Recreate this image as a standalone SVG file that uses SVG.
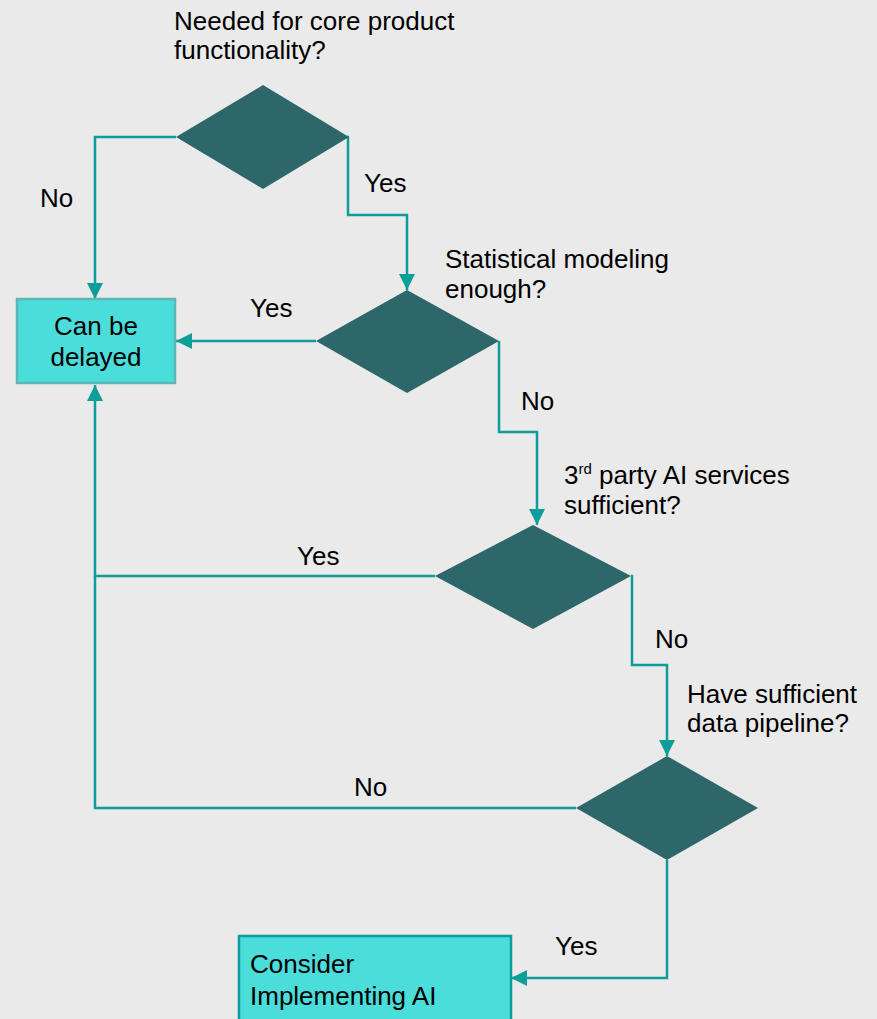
<svg xmlns="http://www.w3.org/2000/svg" width="877" height="1019" viewBox="0 0 877 1019">
<style>
.t{font-family:"Liberation Sans",Arial,sans-serif;font-size:26px;fill:#000}
.d{fill:#2D6769}
.c{fill:none;stroke:#0E9E9A;stroke-width:2.5}
</style>
<defs>
<marker id="b" markerWidth="16" markerHeight="16" viewBox="0 0 16 16" refX="16" refY="8" orient="auto" markerUnits="userSpaceOnUse">
<path d="M0,0 L16,8 L0,16 z" fill="#0E9E9A"/>
</marker>
</defs>
<rect width="877" height="1019" fill="#EAEAEA"/>
<g id="connectors">
<polyline class="c" points="176,137 95,137 95,299" marker-end="url(#b)"/>
<polyline class="c" points="349,137 348,137 348,215 407,215 407,290" marker-end="url(#b)"/>
<polyline class="c" points="316,341 176,341" marker-end="url(#b)"/>
<polyline class="c" points="499,341 499,432 537,432 537,525" marker-end="url(#b)"/>
<polyline class="c" points="435,576 95,576 95,385" marker-end="url(#b)"/>
<polyline class="c" points="631,576 632,576 632,665 667,665 667,756" marker-end="url(#b)"/>
<polyline class="c" points="576,808 95,808 95,576"/>
<polyline class="c" points="667,860 667,978 511,978" marker-end="url(#b)"/>
<text class="t" x="40" y="207">No</text>
<text class="t" x="364" y="192">Yes</text>
<text class="t" x="250" y="317">Yes</text>
<text class="t" x="521" y="410">No</text>
<text class="t" x="297" y="565">Yes</text>
<text class="t" x="655" y="648">No</text>
<text class="t" x="354" y="796">No</text>
<text class="t" x="555" y="955">Yes</text>
</g>
<g id="q1">
<polygon class="d" points="263,85 349,137 263,189 176,137"/>
<text class="t" x="174" y="30">Needed for core product</text>
<text class="t" x="174" y="59">functionality?</text>
</g>
<g id="q2">
<polygon class="d" points="407,290 499,341 407,393 316,341"/>
<text class="t" x="445" y="268">Statistical modeling</text>
<text class="t" x="445" y="298">enough?</text>
</g>
<g id="q3">
<polygon class="d" points="533,525 631,576 533,629 435,576"/>
<text class="t" x="564" y="484">3<tspan font-size="15" dy="-10">rd</tspan><tspan dy="10"> party AI services</tspan></text>
<text class="t" x="564" y="514">sufficient?</text>
</g>
<g id="q4">
<polygon class="d" points="667,756 758,808 667,860 576,808"/>
<text class="t" x="687" y="703">Have sufficient</text>
<text class="t" x="687" y="732">data pipeline?</text>
</g>
<g id="delayed">
<rect x="17" y="299" width="158" height="84" fill="#4ADDDA" stroke="#5CB8B8" stroke-width="2.5"/>
<text class="t" x="96" y="335" text-anchor="middle">Can be</text>
<text class="t" x="96" y="366" text-anchor="middle">delayed</text>
</g>
<g id="consider">
<rect x="239" y="936" width="272" height="100" fill="#4ADDDA" stroke="#0E9E9A" stroke-width="2.5"/>
<text class="t" x="250" y="973">Consider</text>
<text class="t" x="250" y="1005">Implementing AI</text>
</g>
</svg>
